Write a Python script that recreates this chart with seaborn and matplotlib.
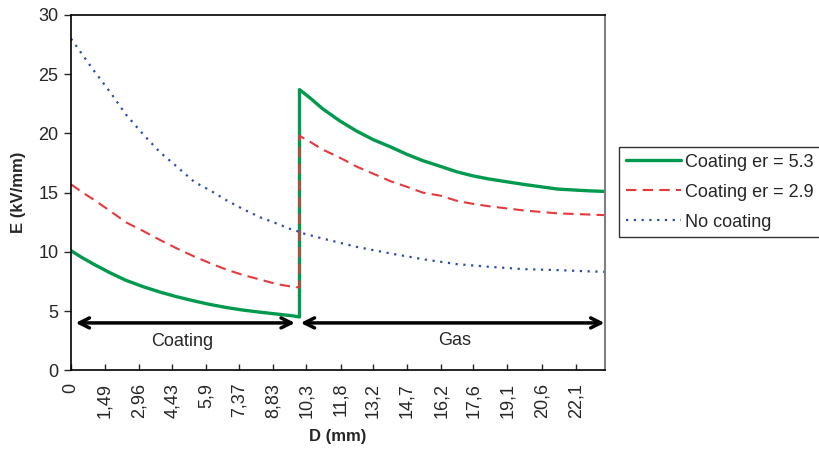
import pandas as pd
import matplotlib
matplotlib.use('Agg')
import matplotlib.pyplot as plt
import seaborn as sns

# values (D in mm, E in kV/mm)
d_coating = [0, 0.47, 1.0, 1.71, 2.4, 3.17, 3.9, 4.63, 5.4, 6.08, 6.8, 7.54, 8.3, 9.0, 9.7, 10.0]
d_gas = [10.0, 10.46, 11.0, 11.77, 12.5, 13.23, 14.0, 14.69, 15.4, 16.15, 16.9, 17.6, 18.3,
         19.8, 21.3, 22.7, 23.4]
d_gas_nc = [10.0, 11.0, 12.5, 14.0, 15.4, 16.9, 18.3, 19.8, 21.3, 22.7, 23.4]

e53_coating = [10.1, 9.53, 8.95, 8.23, 7.6, 7.05, 6.6, 6.21, 5.85, 5.56, 5.3, 5.08, 4.9, 4.75,
               4.6, 4.5]
e53_gas = [23.7, 23.0, 22.1, 21.05, 20.2, 19.47, 18.85, 18.24, 17.7, 17.23, 16.75, 16.41, 16.15,
           15.7, 15.3, 15.15, 15.1]

e29_coating = [15.7, 15.06, 14.4, 13.46, 12.5, 11.75, 11.0, 10.29, 9.6, 9.05, 8.5, 8.04, 7.65,
               7.28, 7.05, 7.0]
e29_gas = [19.8, 19.3, 18.65, 17.95, 17.2, 16.6, 15.95, 15.5, 15.0, 14.75, 14.3, 14.05, 13.85,
           13.5, 13.25, 13.15, 13.1]

enc_coating = [28.0, 26.73, 25.3, 23.5, 21.6, 19.9, 18.4, 17.2, 15.9, 15.2, 14.36, 13.6, 12.9,
               12.4, 11.85, 11.7]
enc_gas = [11.64, 11.13, 10.42, 9.86, 9.38, 8.96, 8.74, 8.54, 8.46, 8.35, 8.31]

tick_labels = ['0', '1,49', '2,96', '4,43', '5,9', '7,37', '8,83', '10,3',
               '11,8', '13,2', '14,7', '16,2', '17,6', '19,1', '20,6', '22,1']

curves = {
    'Coating er = 5.3': (d_coating + d_gas, e53_coating + e53_gas),
    'Coating er = 2.9': (d_coating + d_gas, e29_coating + e29_gas),
    'No coating': (d_coating + d_gas_nc, enc_coating + enc_gas),
}
df = pd.concat([pd.DataFrame({'D': d, 'E': e, 'series': name})
                for name, (d, e) in curves.items()], ignore_index=True)

sns.set_style('white')
plt.rcParams['font.family'] = ['Liberation Sans', 'DejaVu Sans']

fig = plt.figure(figsize=(8.19, 4.49), dpi=100)
ax = fig.add_axes([0.0867, 0.1753, 0.652, 0.7913])

styles = {
    'Coating er = 5.3': dict(color='#009a4e', linestyle='-', linewidth=2.4),
    'Coating er = 2.9': dict(color='#e8383d', linestyle=(0, (5, 3)), linewidth=1.5),
    'No coating': dict(color='#2b4ea8', linestyle=(0, (1, 2.5)), linewidth=1.6),
}
for name in curves:
    sns.lineplot(data=df[df.series == name], x='D', y='E', ax=ax, label=name,
                 estimator=None, sort=False, **styles[name])

ax.set_xlim(0, 23.37)
ax.set_ylim(0, 30)
ax.set_yticks(range(0, 31, 5))
ax.set_xticks([float(t.replace(',', '.')) for t in tick_labels])
ax.set_xticklabels(tick_labels, rotation=90, fontsize=13)
ax.tick_params(axis='y', direction='out', length=5, width=1, labelsize=13, pad=4, left=True)
ax.tick_params(axis='x', direction='in', length=4, width=1, pad=9, bottom=True)

for side in ['left', 'bottom', 'top']:
    ax.spines[side].set_color('black')
    ax.spines[side].set_linewidth(1.2)
ax.spines['right'].set_color('#808080')
ax.spines['right'].set_linewidth(1.5)

ax.set_xlabel('D (mm)', fontsize=12, fontweight='bold', labelpad=8)
ax.set_ylabel('E (kV/mm)', fontsize=12, fontweight='bold', labelpad=9)

# region arrows
arrow = dict(arrowstyle='<->', color='black', lw=2.5, mutation_scale=18, shrinkA=0, shrinkB=0)
ax.annotate('', xy=(0.2, 4), xytext=(9.8, 4), arrowprops=arrow)
ax.annotate('', xy=(10.05, 4), xytext=(23.35, 4), arrowprops=arrow)
ax.text(4.85, 2.4, 'Coating', ha='center', va='center', fontsize=13)
ax.text(16.8, 2.5, 'Gas', ha='center', va='center', fontsize=13)

leg = ax.legend(loc='upper left', bbox_to_anchor=(0.7558, 0.6733), bbox_transform=fig.transFigure,
                borderaxespad=0, frameon=True, fancybox=False, fontsize=13,
                handlelength=3.05, handletextpad=0.22, labelspacing=0.72, borderpad=0.38)
leg.get_frame().set_edgecolor('black')
leg.get_frame().set_linewidth(1.0)

fig.savefig('out.png', dpi=100)
